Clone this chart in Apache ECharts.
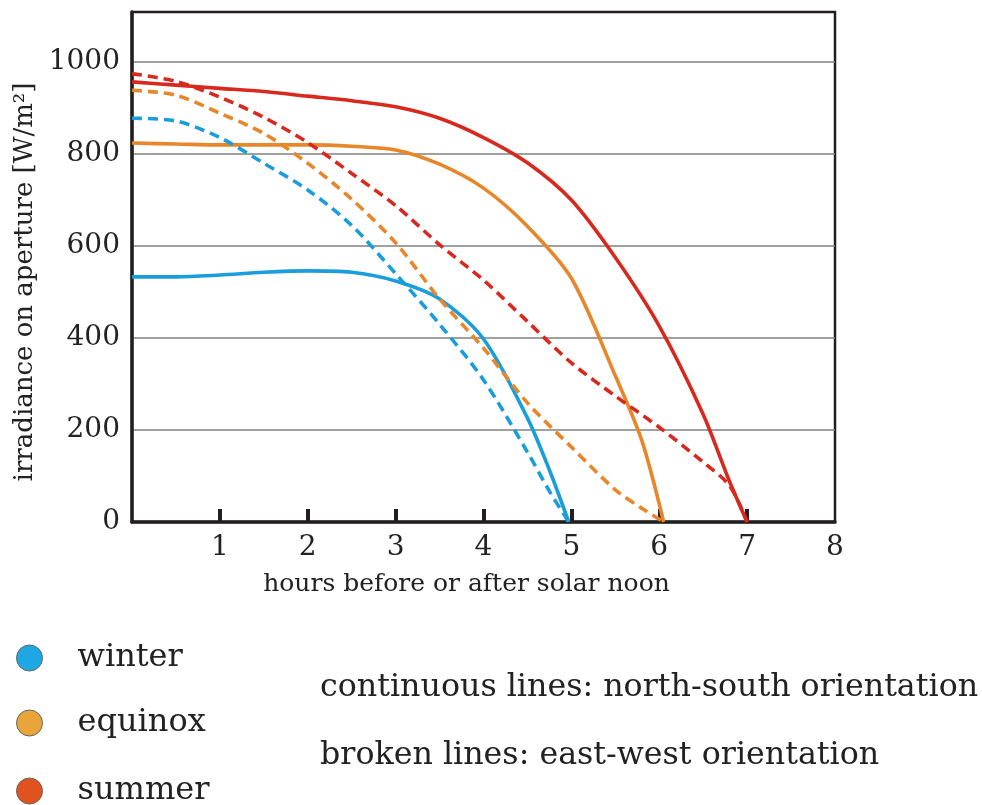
<!DOCTYPE html>
<html><head><meta charset="utf-8">
<script src="https://cdn.jsdelivr.net/npm/echarts@6/dist/echarts.min.js"></script>
<style>html,body{margin:0;padding:0;background:#fff}#c{width:982px;height:805px}</style>
</head><body><div id="c"></div>
<script>
// ---- data ----
const seasons = ['winter', 'equinox', 'summer'];
const xTickValues = [1, 2, 3, 4, 5, 6, 7];

const hoursWinterNS = [0, 0.5, 1, 1.5, 2, 2.5, 3, 3.5, 4, 4.5, 4.75, 4.97];
const winterNS      = [533, 533, 537, 543, 546, 543, 524, 485, 398, 226, 113, 0];
const hoursWinterEW = [0, 0.5, 1, 1.5, 2, 2.5, 3, 3.5, 4, 4.5, 4.75, 4.97];
const winterEW      = [878, 872, 836, 780, 722, 645, 540, 430, 309, 152, 67, 0];

const hoursEquinox  = [0, 0.5, 1, 1.5, 2, 2.5, 3, 3.5, 4, 4.5, 5, 5.5, 5.8, 6.05];
const equinoxNS     = [824, 822, 820, 820, 820, 817, 809, 778, 726, 643, 530, 318, 178, 0];
const equinoxEW     = [939, 928, 889, 845, 780, 702, 607, 485, 378, 259, 163, 70, 30, 0];

const hoursSummer   = [0, 0.5, 1, 1.5, 2, 2.5, 3, 3.5, 4, 4.5, 5, 5.5, 6, 6.5, 6.8, 7];
const summerNS      = [957, 950, 943, 936, 926, 916, 903, 878, 836, 781, 700, 575, 426, 234, 88, 0];
const summerEW      = [975, 958, 924, 880, 825, 758, 688, 603, 526, 436, 346, 274, 206, 130, 79, 0];

const noteNS = 'continuous lines: north-south orientation';
const noteEW = 'broken lines: east-west orientation';

// ---- styling ----
const F = '"DejaVu Serif", "Liberation Serif", serif';
const lineColors = { winter: '#1a9ddb', equinox: '#e8862a', summer: '#d8291f' };
const legendColors = { winter: '#1ea7e3', equinox: '#e8a539', summer: '#e0531f' };
const legendTops = [642, 707, 775];
const ink = '#231f20';

function pairs(xs, ys) { return xs.map((x, i) => [x, ys[i]]); }
function mk(name, xs, ys, dashed) {
  return {
    name: name, type: 'line', data: pairs(xs, ys),
    smooth: 0.3, showSymbol: false, silent: true,
    itemStyle: { color: legendColors[name] },
    lineStyle: { color: lineColors[name], width: 3.6, type: dashed ? [10, 6] : 'solid', cap: 'butt' },
    z: dashed ? 3 : 2
  };
}

const chart = echarts.init(document.getElementById('c'));
chart.setOption({
  animation: false,
  backgroundColor: '#fff',
  grid: { left: 132, right: 147, top: 12, bottom: 283, show: true, borderColor: ink, borderWidth: 2.5 },
  xAxis: {
    type: 'value', min: 0, max: 8, interval: 1,
    axisLine: { lineStyle: { color: ink, width: 3.5 } },
    axisTick: { show: true, inside: true, length: 13, customValues: xTickValues, lineStyle: { color: ink, width: 4 } },
    axisLabel: { fontFamily: F, fontSize: 28, color: '#222', margin: 12, showMinLabel: false },
    splitLine: { show: false },
    name: 'hours before or after solar noon', nameLocation: 'middle', nameGap: 50,
    nameTextStyle: { fontFamily: F, fontSize: 25, color: '#222', padding: [0, 34, 0, 0] }
  },
  yAxis: {
    type: 'value', min: 0, max: 1109, interval: 200,
    axisLine: { show: true, lineStyle: { color: ink, width: 3.5 } },
    axisTick: { show: false },
    axisLabel: { fontFamily: F, fontSize: 28, color: '#222', margin: 12,
      formatter: v => (v % 200 === 0 ? String(v) : '') },
    splitLine: { show: true, showMinLine: false, showMaxLine: false, lineStyle: { color: '#808080', width: 1.5 } },
    name: 'irradiance on aperture [W/m²]', nameLocation: 'middle', nameGap: 92,
    nameTextStyle: { fontFamily: F, fontSize: 26, color: '#222', padding: [0, 30, 0, 0] }
  },
  legend: seasons.map((s, i) => ({
    orient: 'vertical', left: 16, top: legendTops[i], padding: 0, selectedMode: false,
    itemWidth: 28, itemHeight: 26, icon: 'circle',
    data: [{ name: s, icon: 'circle',
      itemStyle: { color: legendColors[s], borderColor: '#666', borderWidth: 1 } }],
    textStyle: { fontFamily: F, fontSize: 32, color: '#222', padding: [0, 0, 0, 29] }
  })),
  graphic: [
    { type: 'text', left: 320, top: 672, style: { text: noteNS, font: '31.7px "DejaVu Serif"', fill: '#222' } },
    { type: 'text', left: 320, top: 740, style: { text: noteEW, font: '31.7px "DejaVu Serif"', fill: '#222' } }
  ],
  series: [
    mk('winter', hoursWinterNS, winterNS, false),
    mk('winter', hoursWinterEW, winterEW, true),
    mk('equinox', hoursEquinox, equinoxNS, false),
    mk('equinox', hoursEquinox, equinoxEW, true),
    mk('summer', hoursSummer, summerNS, false),
    mk('summer', hoursSummer, summerEW, true)
  ]
});
</script>
</body></html>
